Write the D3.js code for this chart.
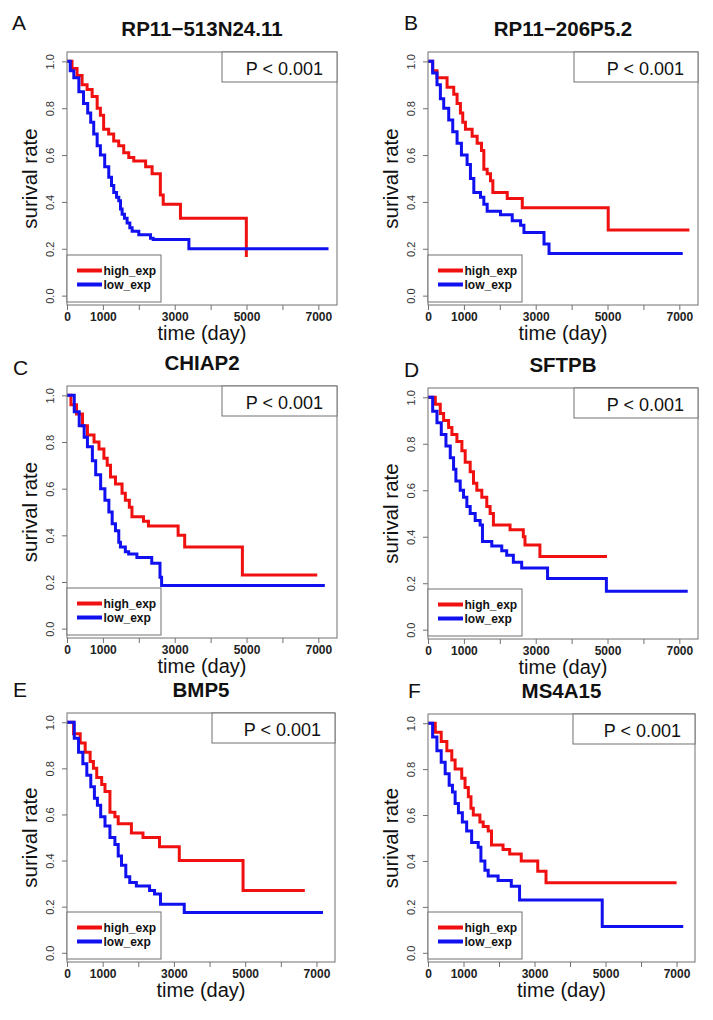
<!DOCTYPE html>
<html>
<head>
<meta charset="utf-8">
<script src="https://cdn.jsdelivr.net/npm/d3@7"></script>
<style>
  body { margin: 0; background: #fff; }
  text { font-family: "Liberation Sans", Arial, Helvetica, sans-serif; }
</style>
</head>
<body>
<svg id="chart" width="713" height="1020"></svg>
<script>
const panelLetters = ["A", "B", "C", "D", "E", "F"];
const geneNames = ["RP11\u2212513N24.11", "RP11\u2212206P5.2", "CHIAP2", "SFTPB", "BMP5", "MS4A15"];
const pValueLabel = "P < 0.001";
const seriesNames = ["high_exp", "low_exp"];
const xTicks = [0, 1000, 2000, 3000, 4000, 5000, 6000, 7000];
const xTickLabels = [0, 1000, 3000, 5000, 7000];
const yTicks = [0, 0.2, 0.4, 0.6, 0.8, 1.0];

// [day, survival] at each step of the Kaplan-Meier curves
const highA = [[0,1],[140,0.97],[280,0.94],[420,0.90],[560,0.88],[700,0.85],[840,0.80],[930,0.77],[1020,0.71],[1160,0.69],[1300,0.66],[1440,0.64],[1580,0.61],[1720,0.59],[1860,0.575],[2190,0.55],[2370,0.52],[2600,0.43],[2680,0.39],[3160,0.33],[4995,0.165]];
const lowA = [[0,1],[90,0.96],[190,0.93],[330,0.87],[460,0.82],[577,0.78],[660,0.74],[744,0.69],[840,0.64],[930,0.60],[1050,0.55],[1163,0.505],[1240,0.47],[1302,0.44],[1380,0.42],[1442,0.405],[1490,0.37],[1535,0.347],[1600,0.33],[1674,0.31],[1750,0.29],[1814,0.275],[2000,0.26],[2326,0.245],[2400,0.24],[3395,0.20],[7284,0.20]];

const highB = [[0,1],[130,0.96],[251,0.93],[531,0.89],[717,0.86],[810,0.82],[903,0.78],[968,0.74],[1043,0.71],[1229,0.68],[1369,0.65],[1490,0.62],[1555,0.54],[1648,0.52],[1741,0.49],[1806,0.44],[2207,0.415],[2626,0.375],[5019,0.28],[7281,0.28]];
const lowB = [[0,1],[130,0.95],[251,0.90],[345,0.84],[438,0.80],[577,0.75],[689,0.70],[810,0.65],[931,0.60],[1089,0.56],[1182,0.50],[1276,0.44],[1462,0.42],[1555,0.39],[1648,0.36],[2020,0.345],[2346,0.32],[2579,0.30],[2672,0.27],[3231,0.22],[3371,0.18],[7095,0.18]];

const highC = [[0,1],[110,0.96],[266,0.92],[432,0.87],[569,0.83],[753,0.80],[891,0.77],[1028,0.73],[1120,0.70],[1212,0.65],[1350,0.62],[1533,0.58],[1625,0.55],[1736,0.52],[1809,0.48],[2130,0.46],[2268,0.44],[3095,0.40],[3278,0.35],[4885,0.23],[6970,0.23]];
const lowC = [[0,1],[202,0.93],[340,0.87],[478,0.82],[569,0.78],[707,0.72],[799,0.66],[937,0.60],[1056,0.55],[1166,0.50],[1258,0.45],[1350,0.42],[1442,0.37],[1488,0.35],[1625,0.33],[1717,0.32],[1947,0.305],[2360,0.28],[2590,0.22],[2635,0.185],[7181,0.185]];

const highD = [[0,1],[204,0.97],[342,0.93],[435,0.90],[574,0.87],[666,0.84],[805,0.81],[944,0.77],[1036,0.72],[1175,0.68],[1267,0.63],[1360,0.60],[1499,0.57],[1637,0.53],[1730,0.50],[1822,0.45],[2285,0.43],[2655,0.40],[2701,0.365],[3117,0.315],[4986,0.315]];
const lowD = [[0,1],[130,0.94],[250,0.89],[370,0.84],[500,0.79],[620,0.74],[712,0.69],[777,0.64],[897,0.60],[990,0.57],[1082,0.53],[1175,0.50],[1314,0.47],[1452,0.45],[1517,0.38],[1776,0.36],[2054,0.34],[2192,0.32],[2377,0.29],[2609,0.265],[3330,0.22],[4968,0.165],[7234,0.165]];

const highE = [[0,1],[185,0.95],[371,0.91],[510,0.87],[649,0.83],[741,0.80],[834,0.76],[973,0.73],[1066,0.70],[1205,0.61],[1344,0.59],[1437,0.56],[1807,0.52],[2132,0.50],[2595,0.46],[3151,0.40],[4940,0.27],[6673,0.27]];
const lowE = [[0,1],[204,0.93],[324,0.87],[445,0.82],[556,0.77],[667,0.72],[769,0.67],[853,0.64],[945,0.59],[1066,0.55],[1205,0.50],[1344,0.47],[1437,0.42],[1529,0.38],[1650,0.33],[1761,0.305],[1946,0.29],[2317,0.27],[2456,0.255],[2623,0.21],[3290,0.175],[7183,0.175]];

const highF = [[0,1],[205,0.96],[372,0.92],[531,0.88],[670,0.84],[764,0.80],[950,0.76],[1043,0.72],[1136,0.68],[1210,0.63],[1276,0.60],[1462,0.57],[1555,0.55],[1695,0.53],[1788,0.47],[2114,0.45],[2300,0.43],[2626,0.40],[3091,0.355],[3324,0.305],[7002,0.305]];
const lowF = [[0,1],[130,0.94],[251,0.88],[372,0.83],[484,0.78],[596,0.73],[689,0.70],[764,0.65],[857,0.61],[968,0.57],[1089,0.53],[1229,0.48],[1415,0.46],[1490,0.40],[1602,0.36],[1695,0.335],[1974,0.315],[2346,0.29],[2579,0.23],[4907,0.115],[7188,0.115]];

const highSeries = [highA, highB, highC, highD, highE, highF];
const lowSeries = [lowA, lowB, lowC, lowD, lowE, lowF];

// plot boxes (px) - layout only
const layout = [
    { x: 67,  y: 52,  w: 270, h: 253, pw: 115, lx: 12,  ly: 30 },
    { x: 428, y: 52,  w: 270, h: 253, pw: 124, lx: 404, ly: 30 },
    { x: 67,  y: 386, w: 270, h: 252, pw: 115, lx: 13,  ly: 375 },
    { x: 428, y: 388, w: 270, h: 251, pw: 124, lx: 404, ly: 377 },
    { x: 67,  y: 713, w: 268, h: 249, pw: 123, lx: 13,  ly: 697 },
    { x: 428, y: 714, w: 267, h: 248, pw: 122, lx: 408, ly: 698 }
];

const colors = ["#f01010", "#1010f0"];
const boxColor = "#707070";

function drawPanel(svg, i) {
    const L = layout[i];
    const g = svg.append("g").attr("transform", `translate(${L.x},${L.y})`);

    const x = d3.scaleLinear().domain([0, 7520]).range([0, L.w]);
    const y = d3.scaleLinear().domain([-0.04, 1.04]).range([L.h, 0]);

    // axes
    const xAxis = d3.axisBottom(x).tickValues(xTicks).tickSize(5)
        .tickFormat(d => xTickLabels.includes(d) ? d : "");
    const gx = g.append("g").attr("transform", `translate(0,${L.h})`).call(xAxis);
    gx.select(".domain").remove();
    gx.selectAll("line").attr("stroke", boxColor);
    gx.selectAll("text")
        .attr("y", 12).attr("dy", "0.3em")
        .style("font-size", "12px").style("font-weight", "bold").attr("fill", "#222");

    const yAxis = d3.axisLeft(y).tickValues(yTicks).tickSize(5).tickFormat(d3.format(".1f"));
    const gy = g.append("g").call(yAxis);
    gy.select(".domain").remove();
    gy.selectAll("line").attr("stroke", boxColor);
    gy.selectAll("text")
        .attr("x", 0).attr("dy", 0)
        .attr("transform", "translate(-13,0) rotate(-90)")
        .attr("text-anchor", "middle")
        .style("font-size", "11px").attr("fill", "#333");

    // curves
    const line = d3.line().x(d => x(d[0])).y(d => y(d[1])).curve(d3.curveStepAfter);
    [highSeries[i], lowSeries[i]].forEach((s, k) => {
        g.append("path").datum(s)
            .attr("d", line)
            .attr("fill", "none")
            .attr("stroke", colors[k])
            .attr("stroke-width", 3);
    });

    // frame
    g.append("rect").attr("width", L.w).attr("height", L.h)
        .attr("fill", "none").attr("stroke", boxColor).attr("stroke-width", 1);

    // legend bottom-left
    const lg = g.append("g").attr("transform", `translate(0,${L.h - 50})`);
    lg.append("rect").attr("width", 94).attr("height", 47)
        .attr("fill", "#fff").attr("stroke", boxColor);
    seriesNames.forEach((name, k) => {
        const ly = 15.5 + k * 14;
        lg.append("line").attr("x1", 10).attr("x2", 35).attr("y1", ly).attr("y2", ly)
            .attr("stroke", colors[k]).attr("stroke-width", 4);
        lg.append("text").attr("x", 36.5).attr("y", ly + 4.3)
            .style("font-size", "12px").style("font-weight", "bold").attr("fill", "#111")
            .text(name);
    });

    // p-value box top-right
    g.append("rect").attr("x", L.w - L.pw).attr("y", 0).attr("width", L.pw).attr("height", 30)
        .attr("fill", "#fff").attr("stroke", boxColor);
    g.append("text").attr("x", L.w - 14).attr("y", 23)
        .attr("text-anchor", "end").style("font-size", "18px").attr("fill", "#111")
        .text(pValueLabel);

    // titles and labels
    g.append("text").attr("x", L.w / 2).attr("y", -16)
        .attr("text-anchor", "middle").style("font-size", "20.5px").style("font-weight", "bold")
        .attr("fill", "#111").text(geneNames[i]);
    g.append("text").attr("x", L.w / 2).attr("y", L.h + 35)
        .attr("text-anchor", "middle").style("font-size", "20px").attr("fill", "#111")
        .text("time (day)");
    g.append("text").attr("transform", `translate(-30,${L.h / 2}) rotate(-90)`)
        .attr("text-anchor", "middle").style("font-size", "20.5px").attr("fill", "#111")
        .text("surival rate");

    svg.append("text").attr("x", L.lx).attr("y", L.ly)
        .style("font-size", "21px").attr("fill", "#111").text(panelLetters[i]);
}

const svg = d3.select("#chart");
svg.append("rect").attr("width", 713).attr("height", 1020).attr("fill", "#fff");
panelLetters.forEach((_, i) => drawPanel(svg, i));
</script>
</body>
</html>
